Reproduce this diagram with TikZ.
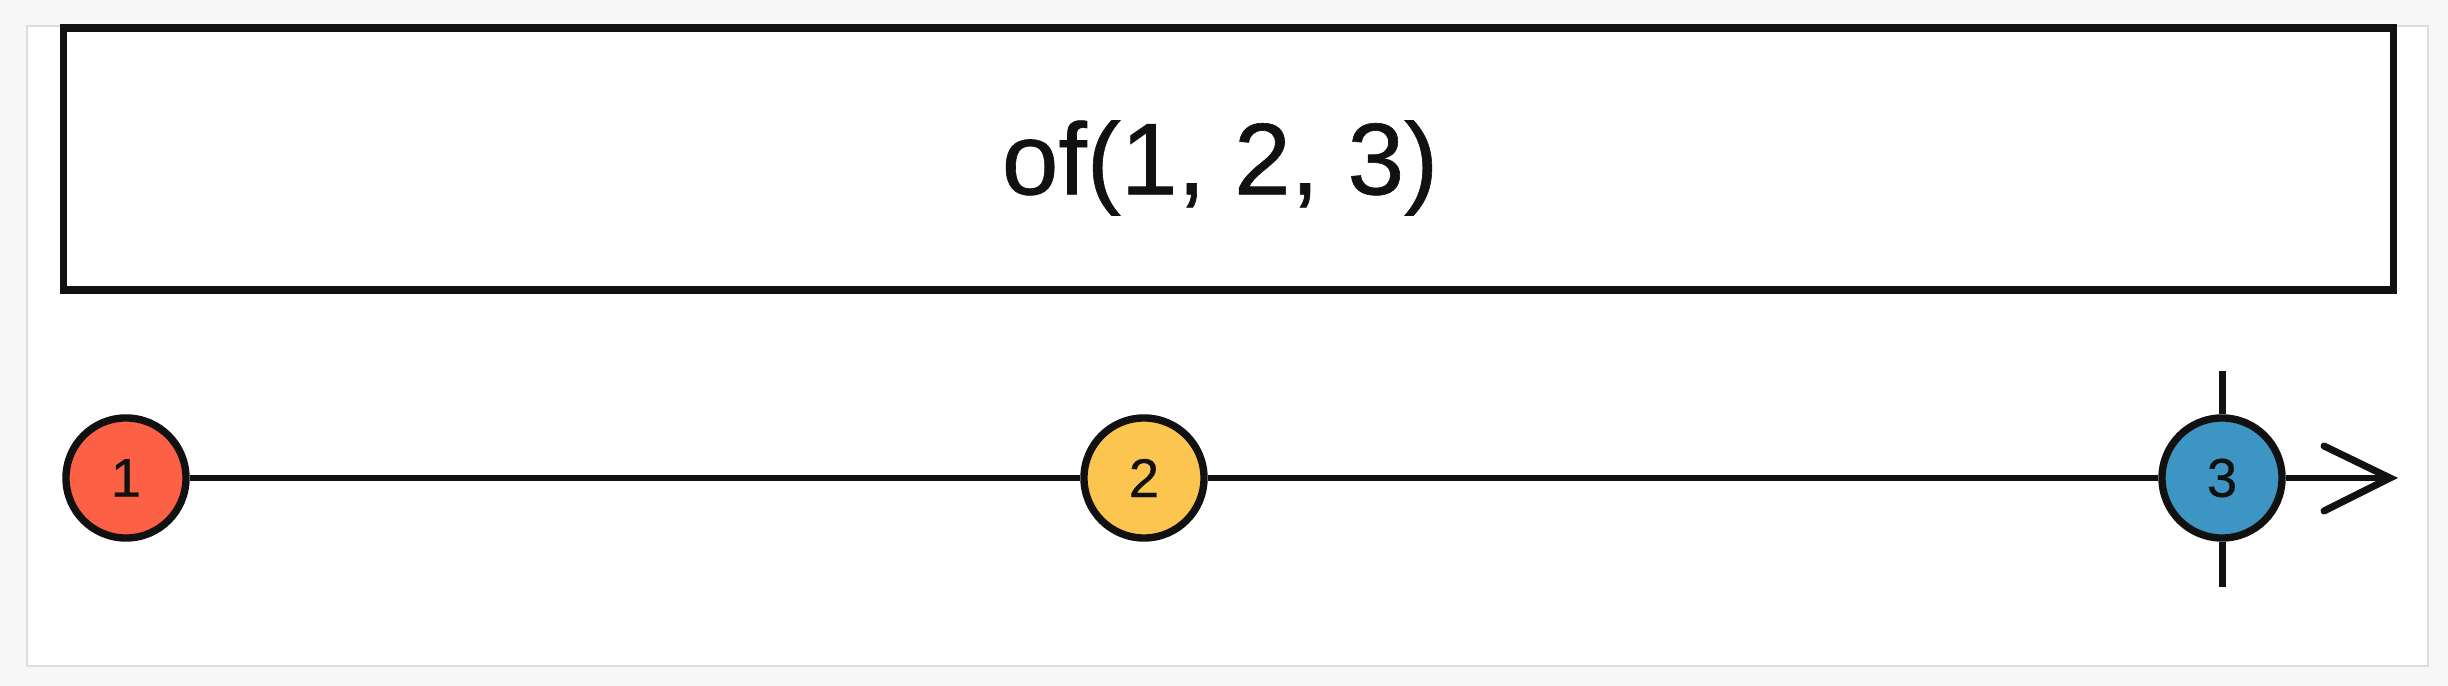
\documentclass[tikz,border=0pt]{standalone}
\usepackage{fontspec}
\setmainfont{Liberation Sans}
\newfontfamily\heavyfont{Liberation Sans}[FakeBold=0.6]
\definecolor{bgout}{HTML}{F7F7F7}
\definecolor{frameline}{HTML}{DDDDDD}
\definecolor{ink}{HTML}{111111}
\definecolor{cred}{HTML}{FC6146}
\definecolor{cyellow}{HTML}{FCC54F}
\definecolor{cblue}{HTML}{3C95C3}
\begin{document}
\begin{tikzpicture}[x=0.01cm,y=-0.01cm,
  marble/.style={circle,draw=ink,line width=2.1pt,minimum size=1.2cm,inner sep=0pt,font=\heavyfont\fontsize{15.5}{16}\selectfont,text=ink},
  tl/.style={draw=ink,line width=1.7pt},
  opbox/.style={draw=ink,line width=2.1pt,fill=white}]
\fill[bgout] (0,0) rectangle (2448,686);
\useasboundingbox (0,0) rectangle (2448,686);
\draw[frameline,fill=white,line width=0.6pt] (27,26) rectangle (2428,666);
\node[opbox,minimum width=23.29cm,minimum height=2.62cm,inner sep=0pt] (op) at (1228.5,159) {};
\node[text=ink,font=\heavyfont\fontsize{29}{30}\selectfont] (label) at (1220,168) {of(1, 2, 3)};
\node[marble,fill=cred] (m1) at (126,478) {1};
\node[marble,fill=cyellow] (m2) at (1144,478) {2};
\node[marble,fill=cblue] (m3) at (2222,478) {3};
\coordinate (tip) at (2390,478);
\coordinate (wingA) at (2324,446);
\coordinate (wingB) at (2324,511);
\coordinate (tickT) at (2222,371);
\coordinate (tickB) at (2222,587);
\draw[tl] (m1) -- (m2);
\draw[tl] (m2) -- (m3);
\draw[tl] (m3) -- (tip);
\draw[tl,line width=2pt,line cap=round,line join=miter] (wingA) -- (tip) -- (wingB);
\draw[tl,line width=2pt] (m3.north) -- (tickT);
\draw[tl,line width=2pt] (m3.south) -- (tickB);
\end{tikzpicture}
\end{document}
